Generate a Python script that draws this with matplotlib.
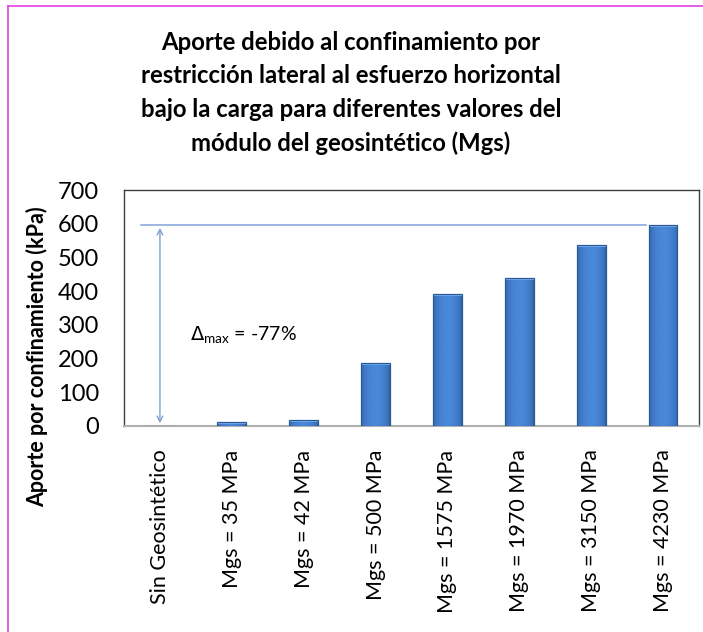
import numpy as np
import matplotlib
matplotlib.use("Agg")
import matplotlib.pyplot as plt
from matplotlib.patches import Rectangle

plt.rcParams['font.family'] = ['Lato', 'DejaVu Sans']

categories = ['Sin Geosintético', 'Mgs = 35 MPa', 'Mgs = 42 MPa', 'Mgs = 500 MPa',
              'Mgs = 1575 MPa', 'Mgs = 1970 MPa', 'Mgs = 3150 MPa', 'Mgs = 4230 MPa']
values = [0, 12, 18, 186, 392, 440, 538, 596]
yticks = [0, 100, 200, 300, 400, 500, 600, 700]
ref_level = 596
title = ('Aporte debido al confinamiento por\n'
         'restricción lateral al esfuerzo horizontal\n'
         'bajo la carga para diferentes valores del\n'
         'módulo del geosintético (Mgs)')

W, H = 703, 632
fig = plt.figure(figsize=(W / 100, H / 100), dpi=100)
ax = fig.add_axes([124 / W, 1 - 426 / H, (699 - 124) / W, (426 - 190) / H])

x = np.arange(len(categories))
bars = ax.bar(x, values, width=0.4, color='#3b78c9', edgecolor='#2a5894', linewidth=0.8, zorder=3)

# shaded look for each bar
grad = np.linspace(0, 1, 64)
grad = np.sin(grad * np.pi) ** 0.5
grad = np.tile(grad, (8, 1))
cmap = matplotlib.colors.LinearSegmentedColormap.from_list('b', ['#2c5fa3', '#4a88d8'])
for b in bars:
    if b.get_height() <= 0:
        continue
    x0, w, h = b.get_x(), b.get_width(), b.get_height()
    im = ax.imshow(grad, extent=(x0, x0 + w, 0, h), cmap=cmap, aspect='auto', zorder=4)
    im.set_clip_path(b)
    cap = min(h * 0.5, 6)
    ax.add_patch(Rectangle((x0, h - cap), w, cap, color='#6fa8ec', zorder=5, lw=0))
    ax.add_patch(Rectangle((x0, 0), w, h, fill=False, ec='#2a5894', lw=0.8, zorder=6))

ax.set_xlim(-0.5, len(categories) - 0.5)
ax.set_ylim(0, 700)
ax.set_yticks(yticks)
ax.set_xticks(x)
ax.set_xticklabels(categories, rotation=90, va='top', ha='center', fontsize=15.5)
ax.tick_params(axis='y', length=0, labelsize=17, colors='black', pad=18)
ax.tick_params(axis='x', length=0, colors='black', pad=17)

for s in ['top', 'right', 'left']:
    ax.spines[s].set_color('#404040')
    ax.spines[s].set_linewidth(1.0)
ax.spines['bottom'].set_color('#b0b0b0')
ax.spines['bottom'].set_linewidth(1.5)

# reference line and delta arrow
ax.plot([-0.26, 6.76], [ref_level, ref_level], color='#8eaadb', lw=1.2, zorder=2)
ax.annotate('', xy=(0, 0), xytext=(0, ref_level),
            arrowprops=dict(arrowstyle='<->', color='#7f9fd0', lw=1.0), zorder=2)
ax.text(0.42, 270, r'$\Delta_{\mathregular{max}}$ = -77%', fontsize=14, va='center', ha='left')

fig.text(351 / W, 1 - 93 / H, title, ha='center', va='center', fontsize=17.2,
         fontweight='bold', linespacing=1.55)
fig.text(37 / W, 1 - 357 / H, 'Aporte por confinamiento (kPa)', rotation=90,
         ha='center', va='center', fontsize=15.5, fontweight='bold')

# pink frame on left and top edges
fig.add_artist(plt.Line2D([8 / W, 8 / W], [0, 1 - 6 / H], color='#e040e0', lw=1.2))
fig.add_artist(plt.Line2D([8 / W, 1], [1 - 6 / H, 1 - 6 / H], color='#e040e0', lw=1.2))

fig.savefig('out.png', dpi=100)
